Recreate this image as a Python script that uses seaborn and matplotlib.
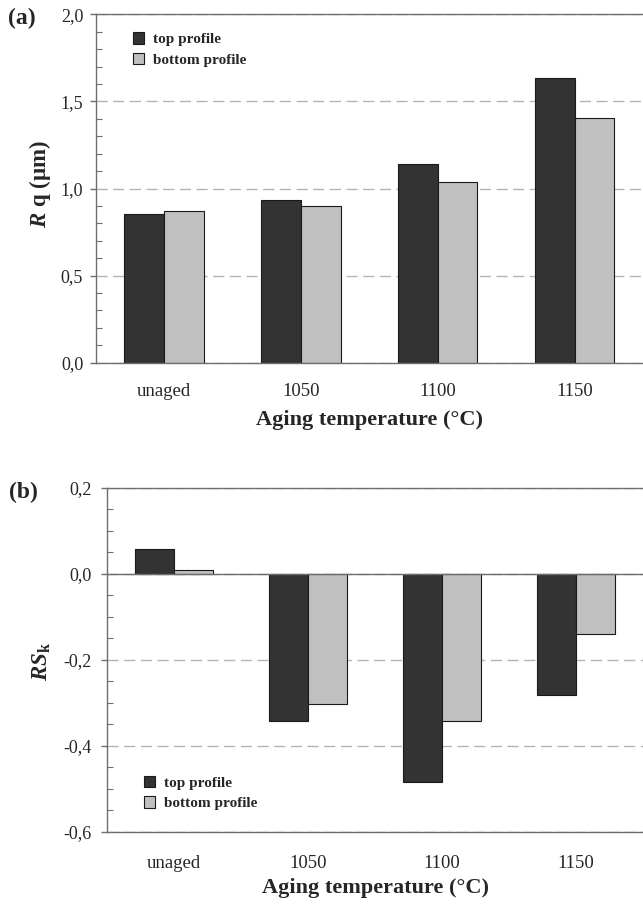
import pandas as pd
import matplotlib
matplotlib.use("Agg")
import matplotlib.pyplot as plt
from matplotlib.ticker import MultipleLocator, FuncFormatter
import seaborn as sns

# values
temps = ["unaged", "1050", "1100", "1150"]
profiles = ["top profile", "bottom profile"]
rq_top = [0.855, 0.935, 1.14, 1.635]
rq_bottom = [0.870, 0.900, 1.04, 1.405]
rsk_top = [0.057, -0.343, -0.485, -0.282]
rsk_bottom = [0.008, -0.304, -0.342, -0.141]

sns.set_theme(style="white")
plt.rcParams["font.family"] = ["Liberation Serif", "DejaVu Serif"]
plt.rcParams["mathtext.fontset"] = "custom"
plt.rcParams["mathtext.rm"] = "Liberation Serif:bold"
plt.rcParams["mathtext.it"] = "Liberation Serif:italic:bold"
plt.rcParams["mathtext.bf"] = "Liberation Serif:bold"

PALETTE = {"top profile": "#333333", "bottom profile": "#c0c0c0"}
SPINE = "#6e6e6e"


def long_df(top, bottom):
    return pd.DataFrame({
        "temp": temps * 2,
        "value": top + bottom,
        "profile": [profiles[0]] * len(temps) + [profiles[1]] * len(temps),
    })


def comma(v, _pos):
    if abs(v) < 1e-9:
        v = 0.0
    return f"{v:.1f}".replace(".", ",")


def style_axes(ax, ylim, major, minor, ypad, xpad):
    ax.set_xlim(-0.5, 3.5)
    ax.set_ylim(*ylim)
    ax.yaxis.set_major_locator(MultipleLocator(major))
    ax.yaxis.set_minor_locator(MultipleLocator(minor))
    ax.yaxis.set_major_formatter(FuncFormatter(comma))
    ax.tick_params(axis="y", which="major", direction="out", length=4.2,
                   width=1, color=SPINE, labelsize=13, pad=ypad, left=True)
    ax.tick_params(axis="y", which="minor", direction="in", length=4,
                   width=0.8, color=SPINE, left=True)
    ax.tick_params(axis="x", length=0, labelsize=13.5, pad=xpad)
    for side in ["left", "top", "bottom"]:
        ax.spines[side].set_color(SPINE)
        ax.spines[side].set_linewidth(1)
    ax.spines["right"].set_visible(False)
    ax.set_axisbelow(True)
    ax.yaxis.grid(True, which="major", color="#b4b4b4", linestyle=(0, (8, 4)),
                  linewidth=1)
    ax.xaxis.grid(False)


def draw_bars(ax, top, bottom):
    sns.barplot(data=long_df(top, bottom), x="temp", y="value", hue="profile",
                order=temps, hue_order=profiles, palette=PALETTE,
                width=0.58, errorbar=None, edgecolor="#1a1a1a", linewidth=0.8,
                ax=ax)
    leg = ax.get_legend()
    handles = leg.legend_handles
    leg.remove()
    return handles


fig = plt.figure(figsize=(6.43, 9.05), dpi=100)
ax1 = fig.add_axes([0.1488, 0.5992, 0.8512, 0.3850])
ax2 = fig.add_axes([0.1669, 0.0810, 0.8331, 0.3801])

# (a) Rq
h = draw_bars(ax1, rq_top, rq_bottom)
style_axes(ax1, (0, 2.0), 0.5, 0.1, ypad=4.8, xpad=14.5)
ax1.legend(h, profiles, loc="upper left", bbox_to_anchor=(0.068, 0.948),
           frameon=False, prop={"weight": "bold", "size": 11},
           handlelength=0.75, handleheight=0.75, handletextpad=0.55,
           labelspacing=0.45, borderpad=0, borderaxespad=0)
ax1.set_xlabel("Aging temperature (°C)", fontsize=16, fontweight="bold", va="center")
ax1.xaxis.set_label_coords(0.5, -0.1636)
ax1.set_ylabel(r"$\mathit{R}$ q (μm)", fontsize=16.5, fontweight="bold", va="center")
ax1.yaxis.set_label_coords(-0.102, 0.512)

# (b) Rsk
h = draw_bars(ax2, rsk_top, rsk_bottom)
style_axes(ax2, (-0.6, 0.2), 0.2, 0.05, ypad=7, xpad=16.5)
ax2.axhline(0, color=SPINE, linewidth=1, zorder=3)
ax2.legend(h, profiles, loc="lower left", bbox_to_anchor=(0.068, 0.062),
           frameon=False, prop={"weight": "bold", "size": 11},
           handlelength=0.75, handleheight=0.75, handletextpad=0.55,
           labelspacing=0.45, borderpad=0, borderaxespad=0)
ax2.set_xlabel("Aging temperature (°C)", fontsize=16, fontweight="bold", va="center")
ax2.xaxis.set_label_coords(0.5, -0.1637)
ax2.set_ylabel(r"$\mathit{RS}_{\mathbf{k}}$", fontsize=16.5, va="center")
ax2.yaxis.set_label_coords(-0.122, 0.496)

fig.text(0.034, 0.980, "(a)", fontsize=17, fontweight="bold", ha="center", va="center")
fig.text(0.036, 0.4564, "(b)", fontsize=17, fontweight="bold", ha="center", va="center")

fig.savefig("out.png", dpi=100)
plt.close(fig)
